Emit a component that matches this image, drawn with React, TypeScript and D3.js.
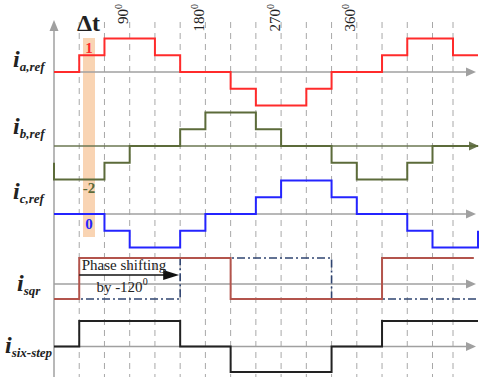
import React from "react";
import * as d3 from "d3";

// step waveforms: [angle in degrees, level]; each level holds until the next point
const iaRef: [number, number][] = [
  [0, 0], [30, 1], [60, 2], [120, 1], [150, 0], [210, -1], [240, -2],
  [300, -1], [330, 0], [390, 1], [420, 2], [480, 1], [510, 1],
];
const ibRef: [number, number][] = [
  [0, -1], [0, -2], [60, -1], [90, 0], [150, 1], [180, 2], [240, 1],
  [270, 0], [330, -1], [360, -2], [420, -1], [450, 0], [510, 0],
];
const icRef: [number, number][] = [
  [0, 0], [60, -1], [90, -2], [150, -1], [180, 0], [240, 1], [270, 2],
  [330, 1], [360, 0], [420, -1], [450, -2], [510, -1],
];
const iSqr: [number, number][] = [[0, -1], [30, 1], [210, -1], [390, 1], [505, 1]];
const iSqrShifted: [number, number][] = [[0, -1], [150, 1], [330, -1], [510, -1]];
const iSixStep: [number, number][] = [
  [0, 0], [30, 1], [150, 0], [210, -1], [330, 0], [390, 1], [510, 1],
];

const gridAngles = d3.range(30, 481, 30);
const degreeTicks = [90, 180, 270, 360];

const W = 479;
const H = 377;

// the drawing squeezes its last 30 degree interval a bit
const x = d3.scaleLinear().domain([0, 450, 480, 510]).range([54, 432.5, 453, 478]);

const yA = d3.scaleLinear().domain([-2, 2]).range([105.4, 38.6]);
const yB = d3.scaleLinear().domain([-2, 2]).range([179.4, 112.6]);
const yC = d3.scaleLinear().domain([-2, 2]).range([247.4, 180.6]);
const ySqr = d3.scaleLinear().domain([-1, 1]).range([299, 258]);
const ySix = d3.scaleLinear().domain([-1, 1]).range([372, 321]);

const stepPath = (data: [number, number][], y: d3.ScaleLinear<number, number>) =>
  d3
    .line<[number, number]>()
    .x((d) => x(d[0]))
    .y((d) => y(d[1]))
    .curve(d3.curveStepAfter)(data) || "";

const axisGray = "#a0a0a0";
const serif = "Liberation Serif, Times New Roman, serif";

const Label = ({ x0, y0, sub }: { x0: number; y0: number; sub: string }) => (
  <text x={x0} y={y0} fontFamily={serif} fontWeight="bold" fontStyle="italic" fill="#222">
    <tspan fontSize={24}>i</tspan>
    <tspan fontSize={13} dy={4}>{sub}</tspan>
  </text>
);

const HArrow = ({ y0, x1 = 476, color = axisGray }: { y0: number; x1?: number; color?: string }) => (
  <g>
    <line x1={54} x2={x1 - 8} y1={y0} y2={y0} stroke={color} strokeWidth={1.3} />
    <path d={`M${x1 - 10},${y0 - 4.5}L${x1},${y0}L${x1 - 10},${y0 + 4.5}Z`} fill={color} />
  </g>
);

const App = () => {
  return (
    <svg
      width={W}
      height={H}
      style={{ position: "absolute", left: 0, top: 0, background: "white" }}
    >
      {/* Δt band */}
      <rect x={83} y={38} width={12} height={199} fill="#f7c9a0" opacity={0.8} />

      {/* dashed grid */}
      {gridAngles.map((a) => (
        <line
          key={a}
          x1={x(a)}
          x2={x(a)}
          y1={22}
          y2={377}
          stroke="#a8a8a8"
          strokeWidth={1}
          strokeDasharray="6,5"
        />
      ))}

      {/* vertical axis */}
      <line x1={54} x2={54} y1={377} y2={28} stroke={axisGray} strokeWidth={1.5} />
      <path d="M49.5,31L54,20L58.5,31Z" fill={axisGray} />

      {/* horizontal axes */}
      <HArrow y0={yA(0)} />
      <HArrow y0={yB(0)} x1={479} color="#6b7752" />
      <HArrow y0={yC(0)} />
      <HArrow y0={284} />
      <HArrow y0={ySix(0)} />

      {/* waveforms */}
      <path d={stepPath(iaRef, yA)} fill="none" stroke="#ff2b2b" strokeWidth={2} />
      <path d={stepPath(ibRef, yB)} fill="none" stroke="#5c6b3a" strokeWidth={2} />
      <path d={stepPath(icRef, yC)} fill="none" stroke="#2424ff" strokeWidth={2} />
      <path
        d={stepPath(iSqrShifted, ySqr)}
        fill="none"
        stroke="#2f4470"
        strokeWidth={1.6}
        strokeDasharray="8,3,2,3"
      />
      <path d={stepPath(iSqr, ySqr)} fill="none" stroke="#b3544c" strokeWidth={2} />
      <path d={stepPath(iSixStep, ySix)} fill="none" stroke="#222" strokeWidth={2} />

      {/* phase shift annotation */}
      <line x1={x(30)} x2={x(150) - 14} y1={275} y2={275} stroke="#111" strokeWidth={1.5} />
      <path d={`M${x(150) - 17},270L${x(150) - 1},275L${x(150) - 17},280Z`} fill="#111" />
      <text x={124} y={270} fontFamily={serif} fontSize={15} textAnchor="middle" fill="#222">
        Phase shifting
      </text>
      <text x={122} y={292} fontFamily={serif} fontSize={15} textAnchor="middle" fill="#222">
        by -120<tspan fontSize={10} dy={-7}>0</tspan>
      </text>

      {/* degree labels */}
      {degreeTicks.map((d) => (
        <text
          key={d}
          transform={`translate(${x(d) - 1.5},4) rotate(-90)`}
          textAnchor="end"
          fontFamily={serif}
          fontSize={15}
          fill="#222"
        >
          {d}
          <tspan fontSize={10} dy={-6}>0</tspan>
        </text>
      ))}

      {/* Δt and band labels */}
      <text x={77} y={31} fontFamily={serif} fontSize={24} fontWeight="bold" fill="#222">Δt</text>
      <text x={89} y={53} fontFamily={serif} fontSize={15} fontWeight="bold" fill="#ff2b2b" textAnchor="middle">1</text>
      <text x={89} y={193} fontFamily={serif} fontSize={15} fontWeight="bold" fill="#5c6b3a" textAnchor="middle">-2</text>
      <text x={89} y={229} fontFamily={serif} fontSize={15} fontWeight="bold" fill="#2424ff" textAnchor="middle">0</text>

      {/* signal names */}
      <Label x0={13} y0={67} sub="a,ref" />
      <Label x0={13} y0={134} sub="b,ref" />
      <Label x0={13} y0={199} sub="c,ref" />
      <Label x0={17} y0={291} sub="sqr" />
      <Label x0={5} y0={353} sub="six-step" />
    </svg>
  );
};

export default App;
